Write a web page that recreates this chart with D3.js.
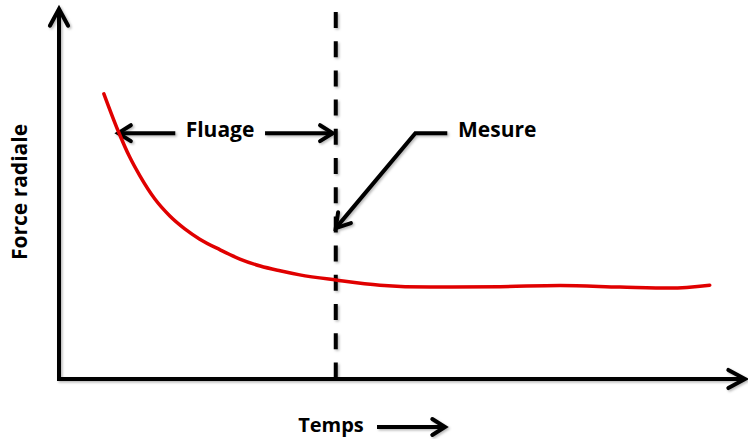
<!DOCTYPE html>
<html>
<head>
<meta charset="utf-8">
<script src="https://cdn.jsdelivr.net/npm/d3@7"></script>
<style>
  html, body { margin: 0; padding: 0; background: #fff; }
  svg { display: block; }
  text { font-family: "Open Sans", "Noto Sans", sans-serif; font-weight: 700; fill: #000; }
</style>
</head>
<body>
<svg id="chart" width="748" height="439"></svg>
<script>
// Force radiale vs temps (courbe de fluage)
const temps = [0.66, 0.87, 1.04, 1.19, 1.41, 1.63, 1.85, 2.07, 2.37, 2.66, 2.96, 3.25, 3.54, 4.07, 4.72, 5.46, 6.49, 7.37, 8.25, 8.99, 9.57];
const force = [7.75, 6.74, 6.03, 5.52, 4.89, 4.43, 4.08, 3.80, 3.51, 3.26, 3.07, 2.94, 2.83, 2.69, 2.55, 2.50, 2.51, 2.54, 2.50, 2.47, 2.55];

// Instant de mesure (fin du fluage)
const tMesure = 4.07;

const labels = {
  y: "Force radiale",
  x: "Temps",
  fluage: "Fluage",
  mesure: "Mesure"
};

const svg = d3.select("#chart");
const x = d3.scaleLinear().domain([0, 10]).range([59, 739]);
const y = d3.scaleLinear().domain([0, 10]).range([379, 11]);

const defs = svg.append("defs");
const shadow = defs.append("filter").attr("id", "shadow")
  .attr("x", "-20%").attr("y", "-20%").attr("width", "140%").attr("height", "140%");
shadow.append("feDropShadow").attr("dx", 1.5).attr("dy", 1.5)
  .attr("stdDeviation", 1.2).attr("flood-color", "#000").attr("flood-opacity", 0.28);

const ink = svg.append("g").attr("filter", "url(#shadow)")
  .attr("fill", "none").attr("stroke", "#000").attr("stroke-width", 4);

// open chevron arrow head at (tx, ty) pointing along (dx, dy)
function head(g, tx, ty, dx, dy, len, ang) {
  const a = Math.atan2(dy, dx) + Math.PI;
  const p1 = [tx + len * Math.cos(a + ang), ty + len * Math.sin(a + ang)];
  const p2 = [tx + len * Math.cos(a - ang), ty + len * Math.sin(a - ang)];
  g.append("path")
    .attr("d", `M${p1[0]},${p1[1]}L${tx},${ty}L${p2[0]},${p2[1]}`)
    .attr("stroke-linejoin", "miter").attr("stroke-linecap", "round");
}

// axes
const x0 = x(0), y0 = y(0);
ink.append("line").attr("x1", x0).attr("y1", y0 + 2).attr("x2", x0).attr("y2", 9);
head(ink, x0, 9, 0, -1, 19, 0.5);
ink.append("line").attr("x1", x0 - 2).attr("y1", y0).attr("x2", 745).attr("y2", y0);
head(ink, 745, y0, 1, 0, 19, 0.5);

// dashed measurement line
ink.append("line")
  .attr("x1", x(tMesure)).attr("x2", x(tMesure))
  .attr("y1", 12).attr("y2", y0)
  .attr("stroke-dasharray", "16,13.2");

// Fluage double arrow
const yF = y(6.68);
ink.append("line").attr("x1", x(0.87)).attr("x2", x(1.71)).attr("y1", yF).attr("y2", yF);
head(ink, x(0.87), yF, -1, 0, 15, 0.56);
ink.append("line").attr("x1", x(3.03)).attr("x2", x(tMesure) - 3).attr("y1", yF).attr("y2", yF);
head(ink, x(tMesure) - 3, yF, 1, 0, 15, 0.56);

// Mesure callout
const elbow = [x(5.24), y(6.68)];
const tip = [x(tMesure), y(4.10)];
ink.append("path")
  .attr("d", `M${x(5.71)},${elbow[1]}L${elbow[0]},${elbow[1]}L${tip[0]},${tip[1]}`)
  .attr("stroke-linejoin", "miter");
head(ink, tip[0], tip[1], tip[0] - elbow[0], tip[1] - elbow[1], 16, 0.55);

// Temps arrow
ink.append("line").attr("x1", 377).attr("x2", 445).attr("y1", 427).attr("y2", 427);
head(ink, 445, 427, 1, 0, 15, 0.56);

// creep curve
const line = d3.line()
  .x((d, i) => x(temps[i]))
  .y(d => y(d))
  .curve(d3.curveMonotoneX);
svg.append("path")
  .attr("d", line(force))
  .attr("fill", "none")
  .attr("stroke", "#e00000")
  .attr("stroke-width", 3.5)
  .attr("stroke-linecap", "round");

// texts
svg.append("text").attr("x", 220).attr("y", 137).attr("text-anchor", "middle")
  .attr("font-size", 21).text(labels.fluage);
svg.append("text").attr("x", 458).attr("y", 137)
  .attr("font-size", 21).text(labels.mesure);
svg.append("text").attr("x", 331).attr("y", 432).attr("text-anchor", "middle")
  .attr("font-size", 20).text(labels.x);
svg.append("text").attr("transform", "translate(27,192) rotate(-90)")
  .attr("text-anchor", "middle").attr("font-size", 21).text(labels.y);
</script>
</body>
</html>
